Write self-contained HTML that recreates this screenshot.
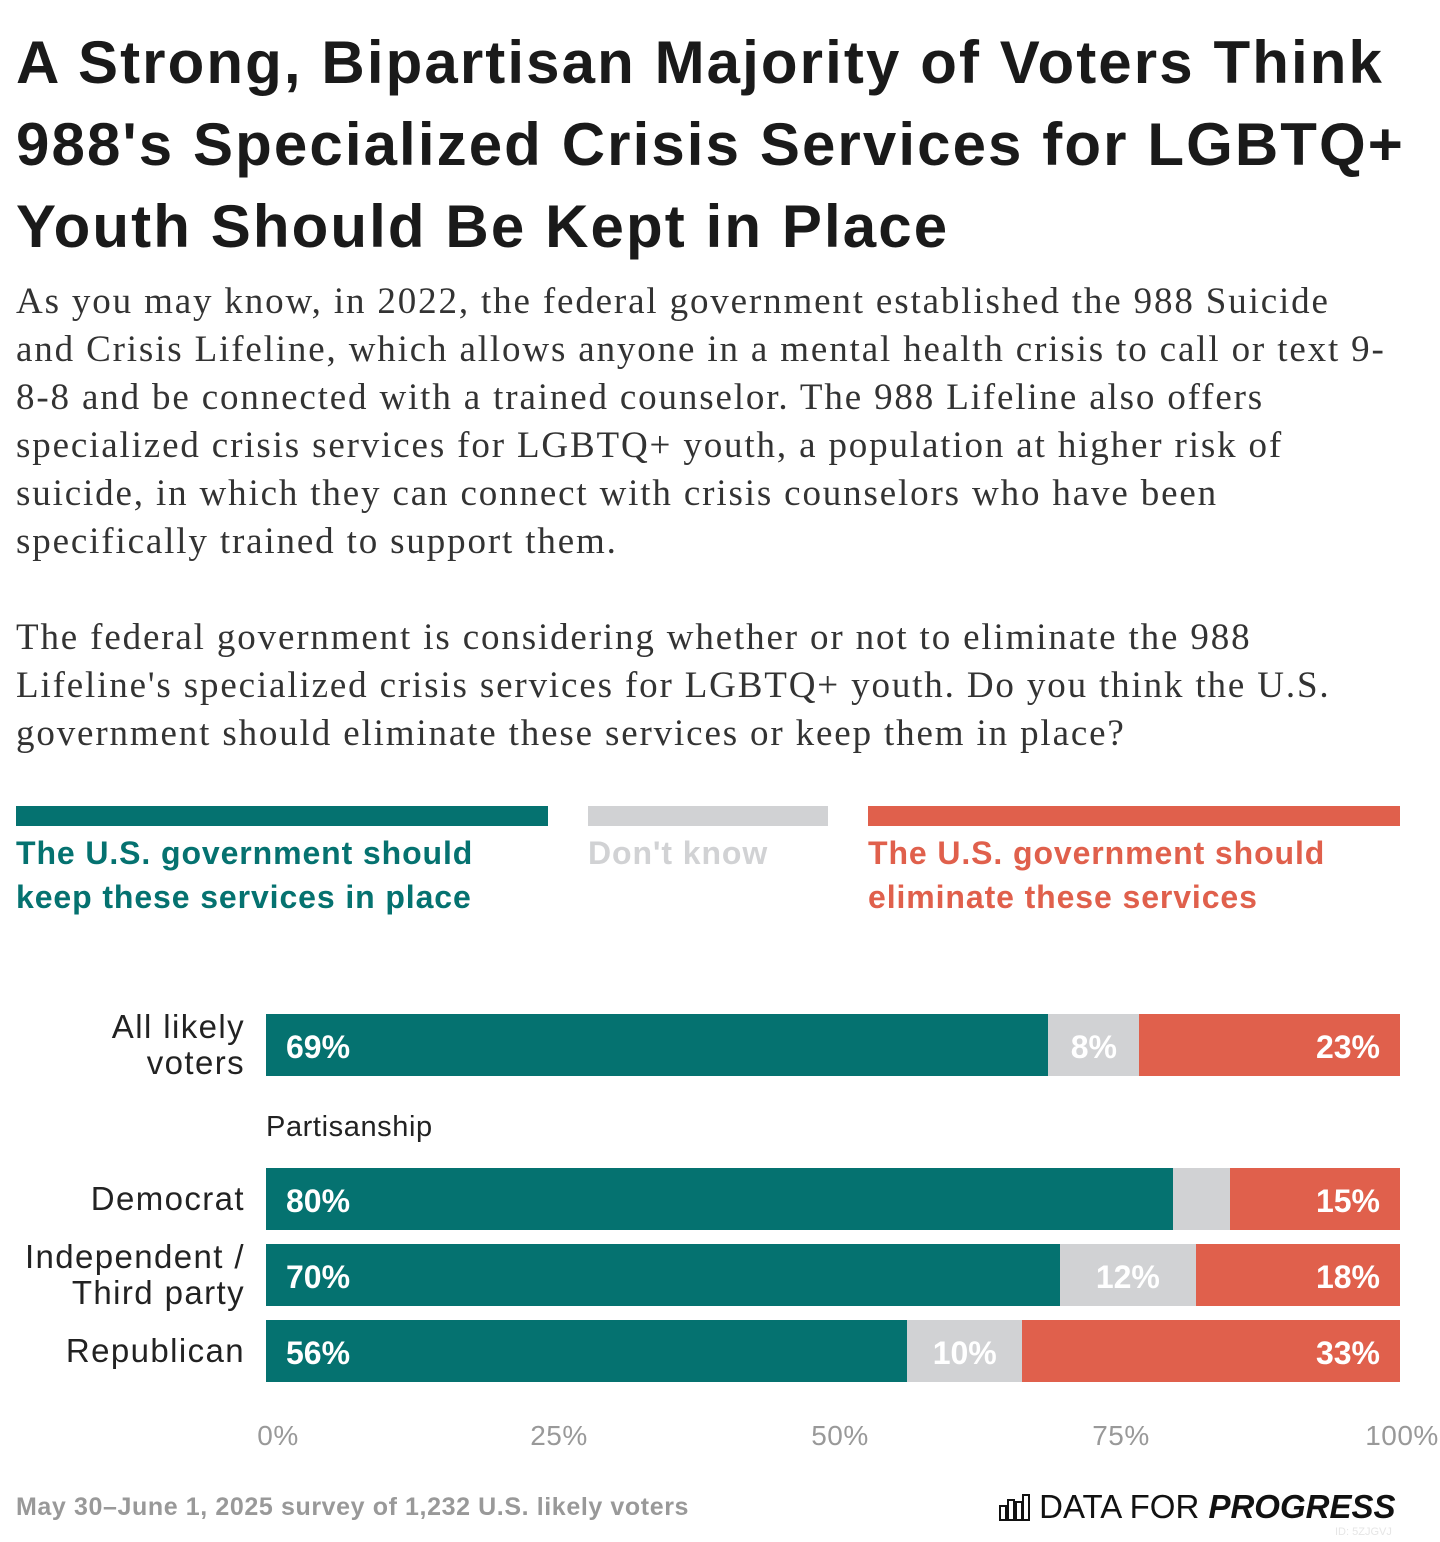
<!DOCTYPE html>
<html><head><meta charset="utf-8"><style>
body{margin:0;background:#fff;width:1440px;height:1542px;position:relative;font-family:"Liberation Sans",sans-serif;overflow:hidden}
.abs{position:absolute;white-space:nowrap}
#title{left:16px;top:22px;font-size:60px;font-weight:bold;line-height:82px;color:#1a1a1a;letter-spacing:2.1px}
#body{left:16px;top:278px;font-family:"Liberation Serif",serif;font-size:37px;line-height:48px;color:#333;letter-spacing:1.85px}
.leg{position:absolute;top:806px;height:20px}
.legt{position:absolute;top:831px;font-size:32px;font-weight:bold;line-height:44px;white-space:nowrap;letter-spacing:0.9px}
.lab{position:absolute;right:1195px;font-size:33px;color:#222;text-align:right;line-height:36px;white-space:nowrap;letter-spacing:1.4px}
.seg{position:absolute;height:62px;color:#fff;font-weight:bold;font-size:32px;line-height:66px;box-sizing:border-box}
.tick{position:absolute;top:1420px;font-size:28px;color:#999;transform:translateX(-50%);letter-spacing:0.5px}
</style></head><body>
<div id="title" class="abs">A Strong, Bipartisan Majority of Voters Think<br>988's Specialized Crisis Services for LGBTQ+<br>Youth Should Be Kept in Place</div>
<div id="body" class="abs">As you may know, in 2022, the federal government established the 988 Suicide<br>and Crisis Lifeline, which allows anyone in a mental health crisis to call or text 9-<br>8-8 and be connected with a trained counselor. The 988 Lifeline also offers<br>specialized crisis services for LGBTQ+ youth, a population at higher risk of<br>suicide, in which they can connect with crisis counselors who have been<br>specifically trained to support them.<br><br>The federal government is considering whether or not to eliminate the 988<br>Lifeline's specialized crisis services for LGBTQ+ youth. Do you think the U.S.<br>government should eliminate these services or keep them in place?</div>

<div class="leg" style="left:16px;width:532px;background:#057270"></div>
<div class="leg" style="left:588px;width:240px;background:#d1d2d4"></div>
<div class="leg" style="left:868px;width:532px;background:#e0604c"></div>
<div class="legt" style="left:16px;color:#057270">The U.S. government should<br>keep these services in place</div>
<div class="legt" style="left:588px;color:#d1d2d4">Don't know</div>
<div class="legt" style="left:868px;color:#e0604c">The U.S. government should<br>eliminate these services</div>

<div class="abs" style="left:266px;top:1111px;font-size:29px;color:#222;letter-spacing:0.6px">Partisanship</div>
<div id="chart"></div>

<div class="abs" style="left:16px;top:1493px;font-size:25px;font-weight:bold;color:#999;letter-spacing:0.6px">May 30–June 1, 2025 survey of 1,232 U.S. likely voters</div>
<div class="abs" style="left:998px;top:1488px;font-size:33px;color:#111"><svg width="32" height="28" style="vertical-align:-3px"><g fill="none" stroke="#111" stroke-width="2"><rect x="2" y="13" width="6" height="14"/><rect x="10" y="7" width="6" height="20"/><rect x="18" y="9" width="6" height="18"/><rect x="25" y="2" width="6" height="25"/></g></svg> DATA FOR <b><i>PROGRESS</i></b></div>
<div class="abs" style="left:1335px;top:1526px;font-size:11px;color:#e6e6e6">ID: 5ZJGVJ</div>

<script>
const categories=["All likely voters","Democrat","Independent / Third party","Republican"];
const labelHtml=["All likely<br>voters","Democrat","Independent /<br>Third party","Republican"];
const keepVals=[69,80,70,56];
const dkVals=[8,5,12,10];
const elimVals=[23,15,18,33];
const tickVals=[0,25,50,75,100];
const rowTops=[1014,1168,1244,1320];
const X0=266,W=1134;
const x=v=>X0+v/100*W;
const tx=v=>278+v/100*1124;
const c=document.getElementById('chart');
categories.forEach((cat,i)=>{
  const l=document.createElement('div');l.className='lab';
  
  
  l.innerHTML=labelHtml[i];
  const lines=labelHtml[i].includes('<br>')?2:1;
  l.style.top=(rowTops[i]+31-lines*18)+'px';c.appendChild(l);
  const tot=keepVals[i]+dkVals[i]+elimVals[i];
  const parts=[[keepVals[i],'#057270','left'],[dkVals[i],'#d1d2d4','center'],[elimVals[i],'#e0604c','right']];
  let acc=0;
  parts.forEach((p,j)=>{
    const s=document.createElement('div');s.className='seg';
    
    
    const a=acc/tot*100,b=(acc+p[0])/tot*100;acc+=p[0];
    s.style.left=x(a)+'px';s.style.width=(x(b)-x(a))+'px';s.style.top=rowTops[i]+'px';
    s.style.background=p[1];s.style.textAlign=p[2];
    s.style.padding=j==0?'0 0 0 20px':j==2?'0 20px 0 0':'0';
    if(p[0]>=8)s.textContent=p[0]+'%';
    c.appendChild(s);
  });
});
tickVals.forEach(t=>{
  const d=document.createElement('div');d.className='tick';
  
  
  d.style.left=tx(t)+'px';d.textContent=t+'%';c.appendChild(d);
});
</script>
</body></html>
